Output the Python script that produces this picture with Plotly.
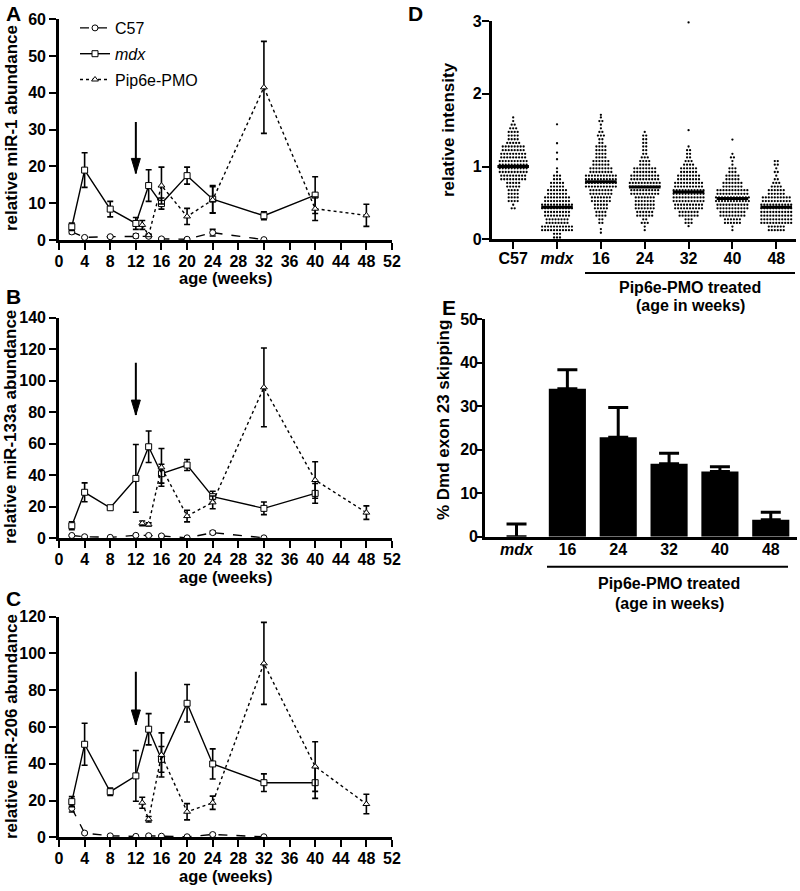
import plotly.graph_objects as go

# ---------------- data: panels A-C (age in weeks) ----------------
weeks_c57 = [2, 4, 8, 12, 14, 16, 20, 24, 32]
weeks_mdx = [2, 4, 8, 12, 14, 16, 20, 24, 32, 40]
weeks_pip = [13, 14, 16, 20, 24, 32, 40, 48]
x_ticks_weeks = list(range(0, 53, 4))

# A: miR-1
a_c57 = [2.2, 0.7, 0.9, 1.1, 1.0, 0.3, 0.2, 2.0, 0.1]
a_c57_err = [0.5, 0.2, 0.2, 0.5, 0.3, 0.2, 0.1, 0.9, 0.1]
a_mdx = [3.6, 19.0, 8.4, 4.5, 14.8, 9.9, 17.5, 11.1, 6.6, 12.2]
a_mdx_err = [1.0, 4.7, 2.1, 1.6, 4.3, 1.5, 2.3, 3.7, 1.1, 5.0]
a_pip = [4.1, 1.3, 14.8, 6.4, 10.9, 41.5, 8.5, 6.7]
a_pip_err = [1.2, 0.3, 5.0, 2.2, 3.6, 12.5, 3.2, 3.0]

# B: miR-133a
b_c57 = [1.8, 1.0, 0.6, 1.9, 1.8, 1.5, 0.3, 3.6, 0.3]
b_c57_err = [0.5, 0.3, 0.2, 0.5, 0.5, 0.4, 0.2, 1.0, 0.2]
b_mdx = [8.0, 29.2, 19.4, 38.0, 58.1, 41.0, 46.5, 26.4, 19.0, 28.5]
b_mdx_err = [2.5, 6.0, 1.0, 21.5, 10.0, 6.0, 3.5, 3.5, 4.0, 6.3]
b_pip = [9.5, 8.8, 45.0, 14.1, 22.8, 95.8, 37.0, 16.3]
b_pip_err = [1.5, 1.0, 12.0, 3.7, 4.0, 25.0, 11.6, 4.3]

# C: miR-206
c_c57 = [15.8, 2.3, 0.8, 0.5, 0.8, 0.6, 0.3, 1.5, 0.3]
c_c57_err = [2.0, 0.4, 0.2, 0.2, 0.2, 0.2, 0.1, 0.5, 0.1]
c_mdx = [19.4, 50.6, 24.8, 33.4, 58.8, 42.4, 72.9, 39.9, 29.7, 29.7]
c_mdx_err = [2.7, 11.4, 2.0, 13.8, 8.5, 7.0, 10.2, 8.2, 4.8, 8.5]
c_pip = [18.8, 9.8, 44.8, 13.9, 18.8, 94.6, 38.5, 18.1]
c_pip_err = [3.0, 1.5, 12.0, 4.4, 3.6, 22.3, 13.5, 5.3]

# ---------------- data: panel D (relative intensity, counts per 0.1 bin) ----------------
d_groups = ["C57", "<i>mdx</i>", "16", "24", "32", "40", "48"]
d_bin = 0.1
d_c57_counts = [0, 0, 0, 0, 3, 8, 8, 10, 18, 20, 20, 18, 16, 9, 8, 5, 2]
d_c57_single = []
d_mdx_counts = [6, 22, 16, 18, 22, 18, 14, 10, 6, 2]
d_mdx_single = [1.10, 1.19, 1.32, 1.58]
d_16_counts = [0, 0, 4, 8, 10, 14, 16, 22, 22, 16, 12, 8, 8, 4, 5, 2, 3]
d_16_single = [0.09, 0.14, 1.71]
d_24_counts = [0, 2, 5, 12, 14, 14, 20, 22, 20, 16, 8, 5, 4, 4, 3]
d_24_single = []
d_32_counts = [0, 0, 6, 14, 20, 22, 22, 20, 16, 12, 7, 4, 3]
d_32_single = [0.18, 1.50, 2.98]
d_40_counts = [0, 2, 12, 18, 22, 24, 22, 14, 10, 6, 2, 3]
d_40_single = [1.37]
d_48_counts = [0, 12, 22, 22, 22, 20, 12, 7, 3, 3, 4]
d_48_single = []
d_medians = [1.00, 0.44, 0.79, 0.72, 0.65, 0.56, 0.44]

# ---------------- data: panel E ----------------
e_groups = ["<i>mdx</i>", "16", "24", "32", "40", "48"]
e_vals = [0.0, 34.0, 22.9, 16.8, 15.0, 3.9]
e_err = [2.9, 4.4, 6.8, 2.4, 1.1, 1.7]

# ---------------- page geometry ----------------
W, H = 800, 891
FONT = "Liberation Sans"


def px_x(p):
    return p / W


def px_y(p):
    return 1 - p / H


fig = go.Figure()

series_style = [
    ("C57", "dash", "circle", 6),
    ("<i>mdx</i>", "solid", "square", 6),
    ("Pip6e-PMO", "dot", "triangle-up", 6),
]

panels = [
    ("x", "y", (a_c57, a_c57_err), (a_mdx, a_mdx_err), (a_pip, a_pip_err), True),
    ("x2", "y2", (b_c57, b_c57_err), (b_mdx, b_mdx_err), (b_pip, b_pip_err), False),
    ("x3", "y3", (c_c57, c_c57_err), (c_mdx, c_mdx_err), (c_pip, c_pip_err), False),
]

for xa, ya, c57, mdx, pip, show in panels:
    for (name, dash, sym, size), xs, (vals, errs) in zip(
        series_style, [weeks_c57, weeks_mdx, weeks_pip], [c57, mdx, pip]
    ):
        fig.add_trace(
            go.Scatter(
                x=xs, y=vals, mode="lines+markers", name=name,
                legendgroup=name, showlegend=show, xaxis=xa, yaxis=ya,
                cliponaxis=False,
                line=dict(color="black", width=1.4, dash=dash),
                marker=dict(symbol=sym, size=size, color="white",
                            line=dict(color="black", width=1)),
                error_y=dict(type="data", array=errs, visible=True,
                             color="black", thickness=1.6, width=3),
            )
        )

# Panel D beeswarm (two dot rows per bin)
d_counts = [d_c57_counts, d_mdx_counts, d_16_counts, d_24_counts,
            d_32_counts, d_40_counts, d_48_counts]
d_singles = [d_c57_single, d_mdx_single, d_16_single, d_24_single,
             d_32_single, d_40_single, d_48_single]
dx = 0.068
dxs, dys = [], []
for gi, (counts, singles) in enumerate(zip(d_counts, d_singles)):
    for b, n in enumerate(counts):
        if n == 0:
            continue
        lo = b * d_bin
        rows = min(2, n)
        per = [n // rows + (1 if r < n % rows else 0) for r in range(rows)]
        for r, m in enumerate(per):
            yv = lo + (r + 0.5) * d_bin / rows
            for k in range(m):
                dxs.append(gi + (k - (m - 1) / 2) * dx)
                dys.append(yv)
    for v in singles:
        dxs.append(gi)
        dys.append(v)

fig.add_trace(go.Scatter(
    x=dxs, y=dys, mode="markers", xaxis="x4", yaxis="y4", showlegend=False,
    cliponaxis=False,
    marker=dict(symbol="circle", size=2.3, color="black", line=dict(width=0)),
))
for gi, med in enumerate(d_medians):
    fig.add_trace(go.Scatter(
        x=[gi - 0.36, gi + 0.36], y=[med, med], mode="lines",
        xaxis="x4", yaxis="y4", showlegend=False,
        line=dict(color="black", width=3),
    ))

# Panel E bars
fig.add_trace(go.Bar(
    x=list(range(len(e_groups))), y=e_vals, width=0.73, xaxis="x5", yaxis="y5",
    showlegend=False, marker=dict(color="black", line=dict(width=0)),
    error_y=dict(type="data", array=e_err, arrayminus=[0] * len(e_err),
                 symmetric=False, color="black", thickness=3, width=10),
))

# ---------------- axes ----------------
tickfont = dict(family=FONT, size=16, color="black")
base_axis = dict(
    showline=True, linecolor="black", linewidth=2.6, ticks="outside",
    ticklen=7, tickwidth=2.4, tickcolor="black", showgrid=False,
    zeroline=False, tickfont=tickfont, fixedrange=True, automargin=False,
)


def bold(vals):
    return ["<b>%s</b>" % v for v in vals]


ydom = {
    "A": (19.3, 240.0, 60, 10),
    "B": (317.7, 538.3, 140, 20),
    "C": (616.7, 837.3, 120, 20),
}
layout_axes = {}
for i, key in enumerate(["A", "B", "C"]):
    top, bot, ymax, dt = ydom[key]
    sx = "" if i == 0 else str(i + 1)
    yt = list(range(0, ymax + 1, dt))
    layout_axes["xaxis" + sx] = dict(
        base_axis, domain=[px_x(59), px_x(392)], range=[0, 52],
        tickvals=x_ticks_weeks, ticktext=bold(x_ticks_weeks), anchor="y" + sx,
        ticklabelstandoff=-2,
    )
    layout_axes["yaxis" + sx] = dict(
        base_axis, domain=[px_y(bot), px_y(top)], range=[0, ymax],
        tickvals=yt, ticktext=bold(yt), anchor="x" + sx,
    )

layout_axes["xaxis4"] = dict(
    base_axis, domain=[px_x(491.7), px_x(796)], range=[-0.49, 6.45],
    tickvals=list(range(7)), ticktext=bold(d_groups), anchor="y4",
    ticklabelstandoff=-4,
)
layout_axes["yaxis4"] = dict(
    base_axis, domain=[px_y(239.3), px_y(21)], range=[0, 3],
    tickvals=[0, 1, 2, 3], ticktext=bold([0, 1, 2, 3]), anchor="x4",
    ticklabelstandoff=-3,
)
layout_axes["xaxis5"] = dict(
    base_axis, domain=[px_x(485), px_x(796.7)], range=[-0.62, 5.51],
    tickvals=list(range(6)), ticktext=bold(e_groups), ticks="", anchor="y5",
    ticklabelstandoff=-4,
)
layout_axes["yaxis5"] = dict(
    base_axis, domain=[px_y(536.7), px_y(319.3)], range=[0, 50],
    tickvals=list(range(0, 51, 10)), ticktext=bold(range(0, 51, 10)),
    anchor="x5", ticklen=5, ticklabelstandoff=-4,
)

# ---------------- annotations ----------------
ann = []


def text(t, x, y, size=17, bold_=True, angle=0):
    ann.append(dict(
        text=("<b>%s</b>" % t) if bold_ else t, x=px_x(x), y=px_y(y),
        xref="paper", yref="paper",
        showarrow=False, textangle=angle, xanchor="center", yanchor="middle",
        font=dict(family=FONT, size=size, color="black"),
    ))


for letter, lx, ly in [("A", 13, 13), ("B", 13, 296), ("C", 13, 598),
                       ("D", 415, 13), ("E", 449, 307)]:
    text(letter, lx, ly, size=21)

text("relative miR-1 abundance", 11, 128, angle=-90)
text("relative miR-133a abundance", 11, 427, angle=-90)
text("relative miR-206 abundance", 11, 727, angle=-90)
for yy in (278, 577, 876):
    text("age (weeks)", 226, yy, size=16.5)
text("relative intensity", 448, 130, angle=-90)
text("% Dmd exon 23 skipping", 443, 420, angle=-90)
text("Pip6e-PMO treated", 690, 287, size=16)
text("(age in weeks)", 690, 305, size=16)
text("Pip6e-PMO treated", 669, 583, size=16)
text("(age in weeks)", 669, 603, size=16)

# ---------------- shapes: arrows and underlines ----------------
shapes = []
arrow_specs = [("x", "y", 32.1, 18.1), ("x2", "y2", 111.4, 78.2),
               ("x3", "y3", 90.1, 61.1)]
for xa, ya, ytop, ytip in arrow_specs:
    shapes.append(dict(type="line", xref=xa, yref=ya, x0=12, x1=12,
                       y0=ytop, y1=ytip, line=dict(color="black", width=2)))
    shapes.append(dict(type="path", xref=xa, yref=ya, xsizemode="pixel",
                       ysizemode="pixel", xanchor=12, yanchor=ytip,
                       path="M-4.5,15 L4.5,15 L0,0 Z",
                       fillcolor="black", line=dict(color="black", width=1)))

shapes.append(dict(type="line", xref="paper", yref="paper",
                   x0=px_x(585), x1=px_x(795), y0=px_y(273), y1=px_y(273),
                   line=dict(color="black", width=2)))
shapes.append(dict(type="line", xref="paper", yref="paper",
                   x0=px_x(547), x1=px_x(788), y0=px_y(566.7), y1=px_y(566.7),
                   line=dict(color="black", width=2)))

fig.update_layout(
    width=W, height=H, autosize=False,
    margin=dict(l=0, r=0, t=0, b=0, pad=0, autoexpand=False),
    paper_bgcolor="white", plot_bgcolor="white",
    font=dict(family=FONT, color="black"),
    showlegend=True,
    legend=dict(x=px_x(75), y=px_y(11), xanchor="left", yanchor="top",
                bgcolor="rgba(0,0,0,0)", tracegroupgap=2,
                font=dict(family=FONT, size=16, color="black")),
    annotations=ann,
    shapes=shapes,
    **layout_axes,
)

fig.write_html("out.html", config={"displayModeBar": False},
               post_script="document.body.style.margin='0px';")
